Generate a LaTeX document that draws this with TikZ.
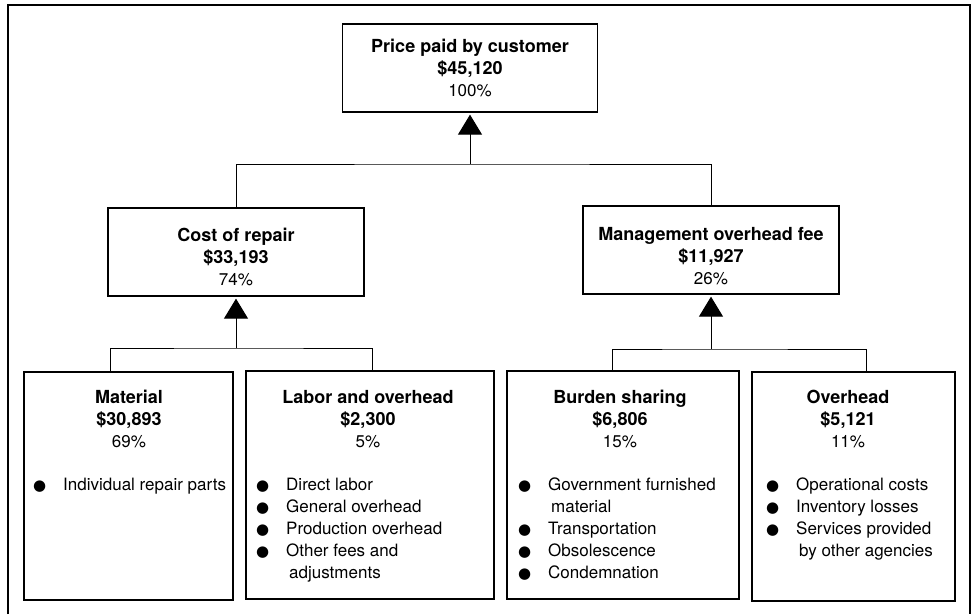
\documentclass[tikz,border=0pt]{standalone}
\usepackage{fontspec}
\setmainfont{TeX Gyre Heros}
\newfontfamily\symfont{DejaVu Sans}
\usetikzlibrary{arrows.meta}
\usetikzlibrary{positioning}

\newcommand{\bul}{{\symfont\fontsize{15}{22}\selectfont ●}}
\newcommand{\more}{\hspace{3pt}}
\newcommand{\hd}[1]{{\fontsize{18}{22}\selectfont\bfseries #1}}
\newenvironment{itemtab}{\begin{tabular}{@{}p{30pt}@{}l@{}}}{\end{tabular}}

\begin{document}
\begin{tikzpicture}
[x=1pt,y=-1pt,>={Triangle[width=24pt,length=20pt]},
 every node/.style={font=\fontsize{17}{22}\selectfont},
 box/.style={draw,line width=1.3pt,rectangle,inner sep=0pt,align=center},
 head/.style={align=center,inner sep=0pt},
 items/.style={anchor=north west,inner sep=0pt},
 link/.style={line width=1pt}]

\useasboundingbox (0,0) rectangle (975,614);
\draw[line width=2pt] (8,614) -- (8,5) -- (970,5) -- (970,614);

\node[box,minimum width=255,minimum height=88] (price) at (470,68) {\hd{Price paid by customer}\\ \hd{\$45,120}\\ 100\%};

\node[box,minimum width=256,minimum height=88] (cost) at (236,252) {};
\node[box,minimum width=256,minimum height=88] (mgmt) at (711,250) {};
\node[head] (costH) at (236,257) {\hd{Cost of repair}\\ \hd{\$33,193}\\ 74\%};
\node[head] (mgmtH) at (711,256) {\hd{Management overhead fee}\\ \hd{\$11,927}\\ 26\%};

\node[box,minimum width=209,minimum height=228] (mat) at (128.5,486) {};
\node[box,minimum width=248,minimum height=228] (lab) at (370,485) {};
\node[box,minimum width=232,minimum height=228] (bur) at (623,485) {};
\node[box,minimum width=203,minimum height=229] (ovh) at (853.5,486.5) {};

\node[head] (matH) at (129,419) {\hd{Material}\\ \hd{\$30,893}\\ 69\%};
\node[head] (labH) at (368,419) {\hd{Labor and overhead}\\ \hd{\$2,300}\\ 5\%};
\node[head] (burH) at (620,419) {\hd{Burden sharing}\\ \hd{\$6,806}\\ 15\%};
\node[head] (ovhH) at (848,419) {\hd{Overhead}\\ \hd{\$5,121}\\ 11\%};

\node[items] (matL) at (33,475) {\begin{itemtab}
\bul & Individual repair parts\\
\end{itemtab}};
\node[items] (labL) at (256,475) {\begin{itemtab}
\bul & Direct labor\\
\bul & General overhead\\
\bul & Production overhead\\
\bul & Other fees and\\
 & \more adjustments\\
\end{itemtab}};
\node[items] (burL) at (518,475) {\begin{itemtab}
\bul & Government furnished\\
 & \more material\\
\bul & Transportation\\
\bul & Obsolescence\\
\bul & Condemnation\\
\end{itemtab}};
\node[items] (ovhL) at (766,475) {\begin{itemtab}
\bul & Operational costs\\
\bul & Inventory losses\\
\bul & Services provided\\
 & \more by other agencies\\
\end{itemtab}};

\coordinate (jtop) at (470,164);
\coordinate (jcost) at (236,348);
\coordinate (jmgmt) at (711,349);

\draw[link] (cost.north) |- (jtop) -| (mgmt.north);
\draw[link,->,shorten >=2pt] (jtop) -- (price.south);

\draw[link] ([xshift=-18.5pt]mat.north) |- (jcost) -| ([xshift=2pt]lab.north);
\draw[link,->,shorten >=2pt] (jcost) -- (cost.south);

\draw[link] ([xshift=-11pt]bur.north) |- (jmgmt) -| ([xshift=12.5pt]ovh.north);
\draw[link,->,shorten >=2pt] (jmgmt) -- (mgmt.south);

\end{tikzpicture}
\end{document}
